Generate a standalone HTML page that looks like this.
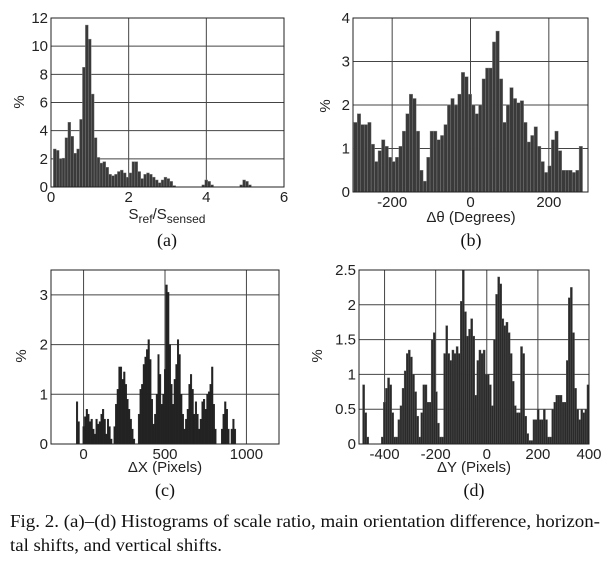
<!DOCTYPE html>
<html><head><meta charset="utf-8"><style>
body{margin:0;background:#fff;width:613px;height:578px;overflow:hidden}
svg{display:block}
.t{font-family:"Liberation Sans",Arial,sans-serif;font-size:15px;fill:#222}
.c{font-family:"Liberation Serif","Times New Roman",serif;fill:#111}
</style></head><body>
<svg id="fig" width="613" height="578" viewBox="0 0 613 578" xmlns="http://www.w3.org/2000/svg">
<g id="pa"></g>
<g id="pb"></g>
<g id="pc"></g>
<g id="pd"></g>
<text class="t" x="167" y="219" text-anchor="middle" font-size="16">S<tspan font-size="12" dy="4">ref</tspan><tspan dy="-4">/S</tspan><tspan font-size="12" dy="4">sensed</tspan></text>
<text class="c" x="167" y="246" text-anchor="middle" font-size="18">(a)</text>
<text class="t" x="471" y="222" text-anchor="middle" font-size="15">Δθ (Degrees)</text>
<text class="c" x="471" y="246" text-anchor="middle" font-size="18">(b)</text>
<text class="t" x="165" y="472" text-anchor="middle" font-size="15">ΔX (Pixels)</text>
<text class="c" x="165" y="496" text-anchor="middle" font-size="18">(c)</text>
<text class="t" x="474" y="472" text-anchor="middle" font-size="15">ΔY (Pixels)</text>
<text class="c" x="474" y="496" text-anchor="middle" font-size="18">(d)</text>
<text class="c" x="10" y="527" font-size="18" textLength="590" lengthAdjust="spacingAndGlyphs">Fig. 2.  (a)–(d) Histograms of scale ratio, main orientation difference, horizon-</text>
<text class="c" x="10" y="551" font-size="18" textLength="212" lengthAdjust="spacingAndGlyphs">tal shifts, and vertical shifts.</text>
</svg>
<script>
const aValues=[2.7,2.6,2.0,2.05,3.5,4.6,3.6,2.4,2.7,4.8,8.5,11.5,10.5,6.6,3.5,2.1,1.7,1.8,1.4,0.9,0.8,0.9,1.1,1.2,1.0,0.7,1.0,1.8,1.8,1.1,0.6,0.9,1.0,0.9,0.7,0.5,0.3,0.5,0.7,0.6,0.4,0.1,0,0,0,0,0,0,0,0,0,0.15,0.5,0.4,0.15,0,0,0,0,0,0,0,0,0,0.15,0.5,0.4,0.15];
const aXTicks=[0,2,4,6];
const aYTicks=[0,2,4,6,8,10,12];
const bValues=[1.6,1.8,1.55,1.55,1.6,1.1,0.7,0.95,1.2,1.05,0.8,0.7,0.8,1.05,1.4,1.8,2.25,2.15,1.4,0.5,0.25,0.8,1.4,1.4,1.2,1.3,1.55,2.0,2.15,2.0,2.25,2.75,2.65,2.25,2.0,1.8,2.0,2.6,2.85,2.85,3.45,3.7,2.6,1.6,2.0,2.4,2.15,2.05,2.1,1.6,1.15,1.3,1.5,1.05,0.7,0.45,0.6,1.2,1.4,0.95,0.5,0.5,0.5,0.45,0.5,1.05];
const bXTicks=[-200,0,200];
const bYTicks=[0,1,2,3,4];
const cValues=[0.85,0.45,0,0,0.35,0.55,0.7,0.6,0.45,0.5,0.3,0.2,0.5,0.4,0.45,0.6,0.7,0.5,0.2,0.5,0.35,0.1,0,0.35,0.8,1.1,1.55,1.55,1.3,1.45,1.2,0.9,0.7,0.5,0.3,0.1,0,0,0.6,1.1,1.2,1.6,1.75,1.9,2.1,1.7,0.9,0.4,0.6,1.0,1.8,1.4,0.8,1.0,1.5,3.2,3.05,2.0,1.2,0.8,1.3,1.6,2.1,1.8,1.0,0.6,0.3,0.5,0.7,1.2,1.4,1.1,0.6,0.85,0.6,0.3,0.5,0.85,0.9,0.7,1.0,1.05,1.2,1.55,0.8,0.3,0,0,0,0.3,0.6,0.85,0.7,0.3,0,0.3,0.5,0.3];
const cXTicks=[0,500,1000];
const cYTicks=[0,1,2,3];
const dValues=[0.85,0.45,0.1,0,0,0,0,0,0,0.1,0.6,0.8,0.95,0.85,0.45,0.1,0.1,0.35,0.55,0.8,1.05,1.3,1.35,1.25,1.0,0.75,0.4,0.1,0.45,0.85,0.85,0.6,0.6,1.5,1.6,0.75,0.3,0.1,0.1,1.3,1.7,1.3,1.2,1.35,1.3,1.4,1.3,2.05,2.5,1.9,1.55,1.65,1.8,1.55,0.7,1.2,1.35,1.3,1.35,1.0,1.0,0.85,0.55,1.5,2.15,2.4,2.3,1.8,1.7,1.75,1.6,1.3,0.9,0.55,0.45,0.45,1.4,1.3,0.4,0.15,0.05,0.05,0.35,0.35,0.5,0.35,0.35,0.5,0.35,0.1,0.1,0.5,0.6,0.7,0.7,0.7,0.6,0.6,1.2,2.1,2.25,1.6,0.8,0.5,0.35,0.5,0.45,0.5,0.85];
const dXTicks=[-400,-200,0,200,400];
const dYTicks=[0,0.5,1,1.5,2,2.5];
const dYLabels=['0','0.5','1','1.5','2','2.5'];

const NS='http://www.w3.org/2000/svg';
function mk(g,tag,attrs){const e=document.createElementNS(NS,tag);for(const k in attrs)e.setAttribute(k,attrs[k]);g.appendChild(e);return e;}
function panel(id,box,xd,yd,vals,start,width,xt,yt,ylab,pctPos,fill,stroke){
  const g=document.getElementById(id);
  const [x0,y0,x1,y1]=box;
  const sx=v=>x0+(v-xd[0])/(xd[1]-xd[0])*(x1-x0);
  const sy=v=>y1-(v-yd[0])/(yd[1]-yd[0])*(y1-y0);
  let r=mk(g,'rect',{x:x0,y:y0,width:x1-x0,height:y1-y0,fill:'#fff',stroke:'none'});
  
  
  xt.forEach(v=>{const l=mk(g,'line',{x1:sx(v),x2:sx(v),y1:y0,y2:y1,stroke:'#444','stroke-width':1});
    
    });
  yt.forEach(v=>{const l=mk(g,'line',{x1:x0,x2:x1,y1:sy(v),y2:sy(v),stroke:'#444','stroke-width':1});
    
    });
  vals.forEach((v,i)=>{if(v<=0)return;const a=sx(start+i*width),b=sx(start+(i+1)*width);
    const e=mk(g,'rect',{x:a,y:sy(v),width:Math.max(b-a,0.8),height:y1-sy(v),fill:fill,stroke:stroke,'stroke-width':0.4});
    
    });
  const f=mk(g,'rect',{x:x0,y:y0,width:x1-x0,height:y1-y0,fill:'none',stroke:'#222','stroke-width':1});
  
  
  xt.forEach(v=>{const t=mk(g,'text',{x:sx(v),y:y1+15,'text-anchor':'middle',class:'t'});t.textContent=String(v);
    
    });
  yt.forEach((v,i)=>{const t=mk(g,'text',{x:x0-3,y:sy(v)+5,'text-anchor':'end',class:'t'});t.textContent=ylab?ylab[i]:String(v);
    
    });
  const p=mk(g,'text',{x:pctPos[0],y:pctPos[1],'text-anchor':'middle',class:'t',transform:`rotate(-90 ${pctPos[0]} ${pctPos[1]})`});p.textContent='%';
  
  
}
panel('pa',[51,18,284,187],[0,6],[0,12],aValues,0.06,0.075,aXTicks,aYTicks,null,[24,102],'#3a3a3a','#888');
panel('pb',[353,18,588,192],[-300,300],[0,4],bValues,-298,8.85,bXTicks,bYTicks,null,[330,106],'#3a3a3a','#888');
panel('pc',[51,270,279,444],[-200,1200],[0,3.5],cValues,-45,10,cXTicks,cYTicks,null,[26,356],'#222','#222');
panel('pd',[359,270,589,444],[-500,400],[0,2.5],dValues,-486,8.13,dXTicks,dYTicks,dYLabels,[322,356],'#2a2a2a','#555');
</script>
</body></html>
